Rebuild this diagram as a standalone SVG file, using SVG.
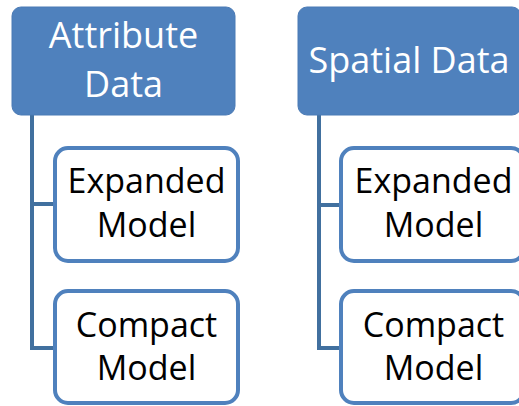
<svg xmlns="http://www.w3.org/2000/svg" width="519" height="406" viewBox="0 0 519 406">
<style>
.hdr{fill:#4F81BD;stroke:#4A7AB5;stroke-width:1}
.child{fill:#fff;stroke:#4F81BD;stroke-width:4}
.conn{fill:none;stroke:#41709F;stroke-width:4}
text{font-family:"Open Sans","Liberation Sans",sans-serif;font-size:34px;text-anchor:middle}
.ht{fill:#fff;font-size:36px}
.ct{fill:#000}
</style>
<rect width="519" height="406" fill="#fff"/>
<g id="connectors">
<path class="conn" d="M32 115 V348 H55 M32 204 H55"/>
<path class="conn" d="M319 115 V348 H341 M319 205 H341"/>
</g>
<g id="attribute-data">
<rect class="hdr" x="12" y="7" width="223" height="108" rx="9"/>
<text class="ht" x="123.5" y="48">Attribute</text>
<text class="ht" x="123.5" y="97">Data</text>
</g>
<g id="spatial-data">
<rect class="hdr" x="298" y="7" width="223" height="108" rx="9"/>
<text class="ht" x="409" y="73">Spatial Data</text>
</g>
<g id="attr-expanded">
<rect class="child" x="55" y="148" width="183" height="113" rx="13"/>
<text class="ct" x="146.5" y="193">Expanded</text>
<text class="ct" x="146.5" y="237">Model</text>
</g>
<g id="attr-compact">
<rect class="child" x="55" y="291" width="183" height="112" rx="13"/>
<text class="ct" x="146.5" y="337">Compact</text>
<text class="ct" x="146.5" y="380">Model</text>
</g>
<g id="spatial-expanded">
<rect class="child" x="341" y="148" width="183" height="113" rx="13"/>
<text class="ct" x="433.5" y="193">Expanded</text>
<text class="ct" x="433.5" y="237">Model</text>
</g>
<g id="spatial-compact">
<rect class="child" x="341" y="291" width="183" height="112" rx="13"/>
<text class="ct" x="433.5" y="337">Compact</text>
<text class="ct" x="433.5" y="380">Model</text>
</g>
</svg>
